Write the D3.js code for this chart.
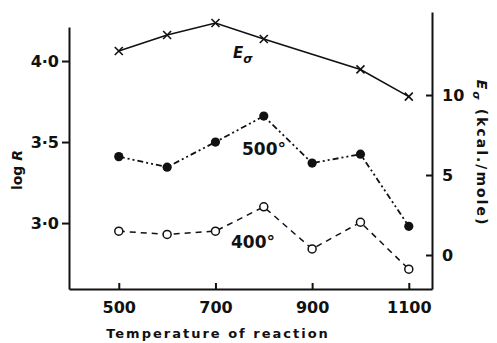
<!DOCTYPE html>
<html>
<head>
<meta charset="utf-8">
<script src="https://cdn.jsdelivr.net/npm/d3@7"></script>
<style>
  body { margin: 0; background: #fff; }
  text { font-family: "DejaVu Sans", sans-serif; font-weight: bold; fill: #111; }
</style>
</head>
<body>
<div id="chart"></div>
<script>
// temperatures of reaction
var temps = [500, 600, 700, 800, 900, 1000, 1100];
// log R at 500 deg (filled dots) and 400 deg (open circles)
var logR500 = [3.41, 3.345, 3.50, 3.66, 3.37, 3.425, 2.98];
var logR400 = [2.95, 2.93, 2.95, 3.10, 2.84, 3.005, 2.715];
// E sigma, kcal/mole (crosses, right axis)
var eSigma = [12.75, 13.75, 14.5, 13.5, null, 11.6, 9.9];

var xTicks = [500, 700, 900, 1100];
var leftTicks = [3.0, 3.5, 4.0];
var rightTicks = [0, 5, 10];

var W = 497, H = 343;
var svg = d3.select("#chart").append("svg").attr("width", W).attr("height", H);

var x = d3.scaleLinear().domain([397, 1148]).range([69, 432]);
var yL = d3.scaleLinear().domain([2.593, 4.21]).range([289, 27]);
var yR = d3.scaleLinear().domain([-2.125, 15.19]).range([289, 12]);

var dotFmt = function(d) { return d3.format(".1f")(d).replace(".", "\u00b7"); };

// axes
var gx = svg.append("g").attr("transform", "translate(0,289)")
  .call(d3.axisBottom(x).tickValues(xTicks).tickFormat(d3.format("d"))
    .tickSizeInner(-6).tickSizeOuter(0).tickPadding(13));
var gl = svg.append("g").attr("transform", "translate(69,0)")
  .call(d3.axisLeft(yL).tickValues(leftTicks).tickFormat(dotFmt).tickSizeInner(7).tickSizeOuter(0).tickPadding(3));
var gr = svg.append("g").attr("transform", "translate(432,0)")
  .call(d3.axisRight(yR).tickValues(rightTicks).tickSizeInner(-6).tickSizeOuter(0).tickPadding(10));

[gx, gl, gr].forEach(function(g) {
  g.select(".domain").attr("stroke", "#111").attr("stroke-width", 2);
  g.selectAll(".tick line").attr("stroke", "#111").attr("stroke-width", 2);
  g.selectAll(".tick text").style("font-size", "16px").attr("fill", "#111")
    .style("font-family", "'DejaVu Sans', sans-serif").style("font-weight", "bold");
});

// series lines
var lineL = d3.line()
  .x(function(d) { return x(d[0]); }).y(function(d) { return yL(d[1]); });
var lineR = d3.line()
  .x(function(d) { return x(d[0]); }).y(function(d) { return yR(d[1]); });

var eData = d3.zip(temps, eSigma).filter(function(d) { return d[1] != null; });
var d500 = d3.zip(temps, logR500);
var d400 = d3.zip(temps, logR400);

svg.append("path").attr("d", lineR(eData)).attr("fill", "none")
  .attr("stroke", "#111").attr("stroke-width", 1.6);
svg.append("path").attr("d", lineL(d500)).attr("fill", "none")
  .attr("stroke", "#111").attr("stroke-width", 1.8).attr("stroke-dasharray", "6,3,2,3,2,3");
svg.append("path").attr("d", lineL(d400)).attr("fill", "none")
  .attr("stroke", "#111").attr("stroke-width", 1.5).attr("stroke-dasharray", "6,5");

// markers
svg.selectAll(".cross").data(eData).enter().append("path").attr("class", "cross")
  .attr("transform", function(d) { return "translate(" + x(d[0]) + "," + yR(d[1]) + ")"; })
  .attr("d", "M-4,-4L4,4M-4,4L4,-4").attr("stroke", "#111").attr("stroke-width", 1.6);
svg.selectAll(".dot5").data(d500).enter().append("circle").attr("class", "dot5")
  .attr("cx", function(d) { return x(d[0]); }).attr("cy", function(d) { return yL(d[1]); })
  .attr("r", 4.6).attr("fill", "#111");
svg.selectAll(".dot4").data(d400).enter().append("circle").attr("class", "dot4")
  .attr("cx", function(d) { return x(d[0]); }).attr("cy", function(d) { return yL(d[1]); })
  .attr("r", 4).attr("fill", "#fff").attr("stroke", "#111").attr("stroke-width", 1.5);

// series labels
var eLab = svg.append("text").attr("x", 233).attr("y", 58).style("font-size", "15px").style("font-style", "italic");
eLab.append("tspan").text("E");
eLab.append("tspan").attr("dy", 5).style("font-size", "12px").text("\u03c3");

svg.append("text").attr("x", 242).attr("y", 155).style("font-size", "17px").text("500\u00b0");
svg.append("text").attr("x", 231).attr("y", 248).style("font-size", "17px").text("400\u00b0");

// axis titles
svg.append("text").attr("x", 218).attr("y", 338).attr("text-anchor", "middle")
  .style("font-size", "13px").style("letter-spacing", "2px").text("Temperature of reaction");

var ly = svg.append("text").attr("transform", "translate(22,170) rotate(-90)")
  .attr("text-anchor", "middle").style("font-size", "14px");
ly.append("tspan").text("log ");
ly.append("tspan").style("font-style", "italic").text("R");

var ry = svg.append("text").attr("transform", "translate(477,153) rotate(90)")
  .attr("text-anchor", "middle").style("font-size", "14px").style("letter-spacing", "2px");
ry.append("tspan").style("font-style", "italic").text("E");
ry.append("tspan").attr("dy", 4).style("font-size", "11px").style("font-style", "italic").text("\u03c3");
ry.append("tspan").attr("dy", -4).text(" (kcal./mole)");
</script>
</body>
</html>
